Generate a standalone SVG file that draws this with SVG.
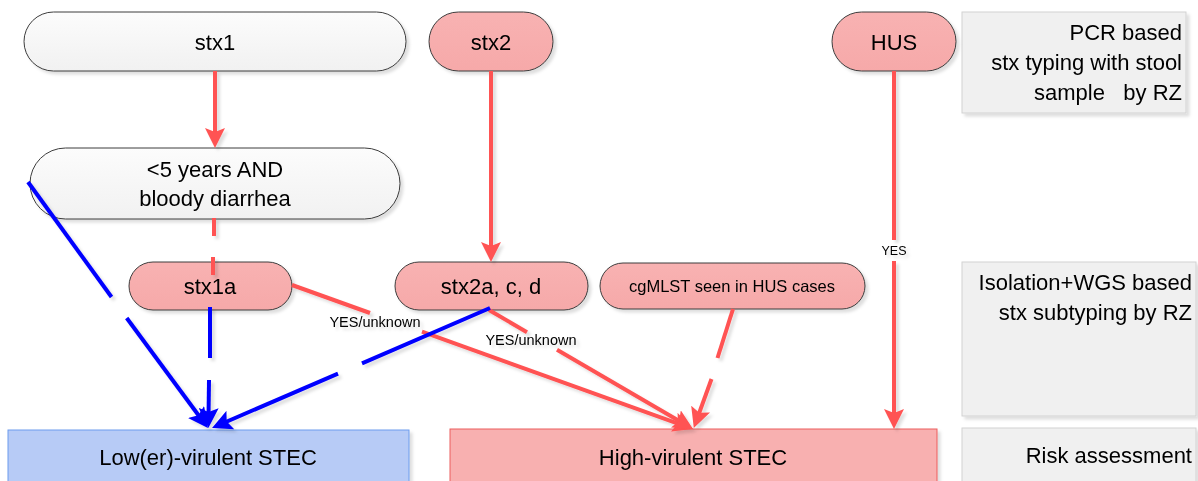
<svg xmlns="http://www.w3.org/2000/svg" width="1198" height="481" viewBox="0 0 1198 481">
  <style>
    text { font-family: "Liberation Sans", Arial, sans-serif; fill: #000; }
    .big { font-size: 22px; }
    .mid { font-size: 16.5px; }
    .lbl { font-size: 14.5px; }
    .tiny { font-size: 12.5px; }
    .c { text-anchor: middle; dominant-baseline: central; }
    .r { text-anchor: end; dominant-baseline: central; }
    .grey { fill: url(#gGrey); stroke: #3c3c3c; stroke-width: 1; }
    .pink { fill: url(#gPink); stroke: #3c3c3c; stroke-width: 1; }
    .side { fill: #f0f0f0; stroke: #d2d2d2; stroke-width: 1; }
    .red { stroke: #ff5252; stroke-width: 4; fill: none; }
    .blue { stroke: #0000ff; stroke-width: 4; fill: none; }
    .ra { marker-end: url(#arrRed); }
    .ba { marker-end: url(#arrBlue); }
  </style>
  <defs>
    <linearGradient id="gGrey" x1="0" y1="0" x2="0" y2="1">
      <stop offset="0" stop-color="#fcfcfc"/>
      <stop offset="1" stop-color="#f1f1f1"/>
    </linearGradient>
    <linearGradient id="gPink" x1="0" y1="0" x2="0" y2="1">
      <stop offset="0" stop-color="#f8b2b2"/>
      <stop offset="1" stop-color="#f6a9a9"/>
    </linearGradient>
    <filter id="shadow" x="-10%" y="-10%" width="130%" height="140%">
      <feDropShadow dx="3" dy="3" stdDeviation="1.5" flood-color="#000" flood-opacity="0.13"/>
    </filter>
    <marker id="arrRed" viewBox="0 0 20 20" markerUnits="userSpaceOnUse" markerWidth="20" markerHeight="20" refX="10" refY="10" orient="auto">
      <path d="M0,0 L20,10 L0,20 L4,10 z" fill="#ff5252"/>
    </marker>
    <marker id="arrBlue" viewBox="0 0 20 20" markerUnits="userSpaceOnUse" markerWidth="20" markerHeight="20" refX="10" refY="10" orient="auto">
      <path d="M0,0 L20,10 L0,20 L4,10 z" fill="#0000ff"/>
    </marker>
  </defs>

  <!-- side panels -->
  <g id="panel-pcr" filter="url(#shadow)">
    <rect class="side" x="962" y="12" width="224" height="101"/>
    <text class="big r" x="1182" y="32">PCR based</text>
    <text class="big r" x="1182" y="62">stx typing with stool</text>
    <text class="big r" x="1182" y="92" xml:space="preserve">sample   by RZ</text>
  </g>
  <g id="panel-wgs" filter="url(#shadow)">
    <rect class="side" x="962" y="262" width="234" height="154"/>
    <text class="big r" x="1192" y="282">Isolation+WGS based</text>
    <text class="big r" x="1192" y="312">stx subtyping by RZ</text>
  </g>
  <g id="panel-risk" filter="url(#shadow)">
    <rect class="side" x="962" y="428" width="234" height="60"/>
    <text class="big r" x="1192" y="455">Risk assessment</text>
  </g>

  <!-- outcome boxes -->
  <g id="low-virulent" filter="url(#shadow)">
    <rect x="8" y="430" width="401" height="60" fill="#b7cbf6" stroke="#6d9cee" stroke-width="1"/>
    <text class="big c" x="208" y="457">Low(er)-virulent STEC</text>
  </g>
  <g id="high-virulent" filter="url(#shadow)">
    <rect x="450" y="429" width="487" height="60" fill="#f8b0b0" stroke="#ec5c5c" stroke-width="1"/>
    <text class="big c" x="693" y="457">High-virulent STEC</text>
  </g>

  <!-- typing nodes -->
  <g id="stx1" filter="url(#shadow)">
    <rect class="grey" x="24" y="12" width="382" height="59" rx="29.5"/>
    <text class="big c" x="215" y="42">stx1</text>
  </g>
  <g id="age-bloody-diarrhea" filter="url(#shadow)">
    <rect class="grey" x="30" y="148" width="370" height="71" rx="35.5"/>
    <text class="big c" x="215" y="169">&lt;5 years AND</text>
    <text class="big c" x="215" y="198">bloody diarrhea</text>
  </g>
  <g id="stx2" filter="url(#shadow)">
    <rect class="pink" x="429" y="12" width="124" height="59" rx="29.5"/>
    <text class="big c" x="491" y="42">stx2</text>
  </g>
  <g id="hus" filter="url(#shadow)">
    <rect class="pink" x="832" y="12" width="124" height="59" rx="29.5"/>
    <text class="big c" x="894" y="42">HUS</text>
  </g>
  <g id="stx1a" filter="url(#shadow)">
    <rect class="pink" x="129" y="262" width="163" height="48" rx="24"/>
    <text class="big c" x="210" y="286">stx1a</text>
  </g>
  <g id="stx2acd" filter="url(#shadow)">
    <rect class="pink" x="395" y="262" width="193" height="48" rx="24"/>
    <text class="big c" x="491" y="286">stx2a, c, d</text>
  </g>
  <g id="cgmlst" filter="url(#shadow)">
    <rect class="pink" x="600" y="263" width="265" height="46" rx="23"/>
    <text class="mid c" x="732" y="286">cgMLST seen in HUS cases</text>
  </g>

  <!-- connectors -->
  <g id="connectors" filter="url(#shadow)">
    <!-- stx1 -> age/diarrhea -->
    <line class="red ra" x1="215" y1="71" x2="215" y2="138"/>
    <!-- age/diarrhea -> stx1a (interrupted) -->
    <line class="red" x1="214" y1="218" x2="214" y2="236"/>
    <line class="red" x1="213" y1="257" x2="213" y2="275"/>
    <!-- stx2 -> stx2a,c,d -->
    <line class="red ra" x1="491" y1="71" x2="491" y2="252"/>
    <!-- HUS -> high-virulent -->
    <line class="red" x1="894" y1="71" x2="894" y2="240"/>
    <line class="red ra" x1="894" y1="261" x2="894" y2="419"/>
    <!-- stx1a -> high-virulent -->
    <line class="red" x1="292" y1="285" x2="370" y2="313"/>
    <line class="red ra" x1="422" y1="331.7" x2="683.6" y2="425.6"/>
    <!-- stx2a,c,d -> high-virulent -->
    <line class="red" x1="489" y1="310" x2="527" y2="332.2"/>
    <line class="red ra" x1="557" y1="349.7" x2="684.4" y2="424"/>
    <!-- cgMLST -> high-virulent -->
    <line class="red" x1="733" y1="309" x2="717.5" y2="358"/>
    <line class="red ra" x1="711.5" y1="379" x2="697.2" y2="418.5"/>
    <!-- age/diarrhea -> low-virulent -->
    <line class="blue" x1="28" y1="182" x2="111.5" y2="297"/>
    <line class="blue ba" x1="126.7" y1="318" x2="202" y2="420"/>
    <!-- stx1a -> low-virulent -->
    <line class="blue" x1="210" y1="307" x2="210" y2="358"/>
    <line class="blue ba" x1="209" y1="380" x2="208.5" y2="418"/>
    <!-- stx2a,c,d -> low-virulent -->
    <line class="blue" x1="490" y1="308" x2="362" y2="363.3"/>
    <line class="blue ba" x1="338" y1="373.6" x2="221.2" y2="424"/>
    <!-- edge labels -->
    <text class="lbl c" x="375" y="322">YES/unknown</text>
    <text class="lbl c" x="531" y="340">YES/unknown</text>
    <text class="tiny c" x="894" y="251">YES</text>
  </g>
</svg>
